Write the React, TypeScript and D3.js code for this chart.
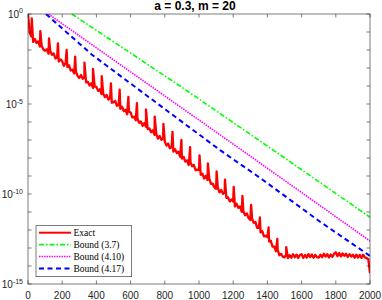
import React from 'react'
import * as d3 from 'd3'

// exact error, log10, sampled every 10 iterations from 0 to 2000
const exactLog = [
  0, -1.05, -1.25, -1.55, -1.39, -1.61, -1.52, -1.81, -1.77, -1.97,
  -2.04, -1.96, -2.21, -2.06, -2.27, -2.19, -2.47, -2.43, -2.64, -2.52,
  -2.63, -2.88, -2.72, -2.94, -2.85, -3.14, -3.10, -3.30, -3.19, -3.44,
  -3.55, -3.39, -3.60, -3.52, -3.80, -3.77, -3.97, -3.85, -4.11, -4.03,
  -4.05, -4.27, -4.18, -4.45, -4.42, -4.62, -4.50, -4.75, -4.67, -4.93,
  -4.91, -4.82, -5.10, -5.06, -5.27, -5.15, -5.40, -5.32, -5.57, -5.42,
  -5.47, -5.75, -5.71, -5.91, -5.80, -6.05, -5.97, -6.22, -6.06, -6.27,
  -6.40, -6.36, -6.57, -6.46, -6.72, -6.65, -6.92, -6.77, -6.99, -6.91,
  -7.09, -7.31, -7.20, -7.46, -7.39, -7.65, -7.51, -7.73, -7.65, -7.94,
  -8.04, -7.94, -8.20, -8.13, -8.39, -8.24, -8.46, -8.39, -8.68, -8.65,
  -8.67, -8.93, -8.87, -9.14, -8.99, -9.22, -9.14, -9.44, -9.42, -9.63,
  -9.71, -9.64, -9.91, -9.77, -9.99, -9.92, -10.21, -10.19, -10.41, -10.30,
  -10.42, -10.69, -10.54, -10.77, -10.69, -10.99, -10.97, -11.18, -11.08, -11.34,
  -11.45, -11.34, -11.60, -11.55, -11.88, -11.88, -12.13, -12.06, -12.35, -12.32,
  -12.39, -12.64, -12.60, -12.92, -12.93, -13.18, -13.10, -13.40, -13.33, -13.48,
  -13.52, -13.36, -13.56, -13.40, -13.54, -13.35, -13.51, -13.37, -13.55, -13.39,
  -13.35, -13.55, -13.39, -13.53, -13.34, -13.50, -13.36, -13.54, -13.38, -13.51,
  -13.53, -13.37, -13.51, -13.32, -13.48, -13.34, -13.52, -13.36, -13.49, -13.33,
  -13.24, -13.46, -13.28, -13.47, -13.30, -13.44, -13.32, -13.50, -13.34, -13.47,
  -13.38, -13.54, -13.37, -13.53, -13.39, -13.55, -13.37, -13.52, -13.56, -13.62,
  -14.4,
]

// the periodic spikes of the exact error
const spikeIter = [22, 72, 123, 175, 226, 276, 330, 380, 431, 485, 536, 587, 637, 690, 741,
  792, 845, 897, 948, 1003, 1052, 1103, 1152, 1203, 1254, 1305, 1356, 1407, 1458, 1510]
const spikeLog = [-0.25, -0.95, -1.35, -1.63, -2.0, -2.37, -2.7, -3.05, -3.45, -3.85, -4.2,
  -4.6, -4.95, -5.3, -5.7, -6.1, -6.55, -7.0, -7.4, -7.85, -8.3, -8.75, -9.2, -9.6, -10.1,
  -10.6, -11.3, -11.85, -12.5, -12.95]

// bounds
const bound37Iter = [256, 889, 1434, 2000]
const bound37Log = [0, -4.0, -7.56, -11.29]
const bound410Iter = [119, 889, 1250, 2000]
const bound410Log = [0, -5.15, -7.56, -12.61]
const bound417Iter = [105, 374, 899, 1123, 1374, 1708, 2000]
const bound417Log = [0, -2.26, -5.98, -7.56, -9.22, -11.54, -13.44]

const xTicks = [0, 200, 400, 600, 800, 1000, 1200, 1400, 1600, 1800, 2000]
const yExps = d3.range(-15, 1)
const legendLabels = ['Exact', 'Bound (3.7)', 'Bound (4.10)', 'Bound (4.17)']

const W = 382, H = 300
const left = 28, right = 370, top = 14, bottom = 284
const axisColor = '#262626'
const sans = "'Liberation Sans', Arial, Helvetica, sans-serif"

export default function App() {
  const x = d3.scaleLinear().domain([0, 2000]).range([left, right])
  const y = d3.scaleLog().domain([1e-15, 1]).range([bottom, top])

  const exactPts = exactLog.map((v, i) => ({ n: i * 10, v }))
    .concat(spikeIter.map((n, i) => ({ n, v: spikeLog[i] })))
    .sort((a, b) => a.n - b.n)

  const line = d3.line<{ n: number; v: number }>()
    .x(d => x(d.n))
    .y(d => y(Math.pow(10, d.v)))

  const zip = (it: number[], lg: number[]) => it.map((n, i) => ({ n, v: lg[i] }))

  const series = [
    { label: legendLabels[0], data: exactPts, color: '#ff0000', dash: null, w: 2.3 },
    { label: legendLabels[1], data: zip(bound37Iter, bound37Log), color: '#00ff00', dash: '5,2,1.5,2', w: 1.6 },
    { label: legendLabels[2], data: zip(bound410Iter, bound410Log), color: '#ff00ff', dash: '1.5,1', w: 1.6 },
    { label: legendLabels[3], data: zip(bound417Iter, bound417Log), color: '#0000ff', dash: '5,3.5', w: 2 },
  ]

  const tl = 3.5

  return (
    <svg width={W} height={H} style={{ position: 'absolute', left: 0, top: 0, background: '#fff' }}>
      <defs>
        <clipPath id="plot-clip">
          <rect x={left} y={top} width={right - left} height={bottom - top} />
        </clipPath>
      </defs>
      <rect x={0} y={0} width={W} height={H} fill="#fff" />

      <g clipPath="url(#plot-clip)">
        {series.slice().reverse().map(s => (
          <path key={s.label} d={line(s.data as any) || ''} fill="none" stroke={s.color}
            strokeWidth={s.w} strokeDasharray={s.dash || undefined} strokeLinejoin="round" />
        ))}
      </g>

      {/* axes box */}
      <rect x={left} y={top} width={right - left} height={bottom - top} fill="none"
        stroke={axisColor} strokeWidth={0.6} />

      {xTicks.map(t => (
        <g key={'x' + t}>
          <line x1={x(t)} x2={x(t)} y1={bottom} y2={bottom - tl} stroke={axisColor} strokeWidth={0.6} />
          <line x1={x(t)} x2={x(t)} y1={top} y2={top + tl} stroke={axisColor} strokeWidth={0.6} />
          <text x={x(t)} y={298.5} textAnchor="middle" fontFamily={sans} fontSize={10} fill={axisColor}>{t}</text>
        </g>
      ))}

      {yExps.map(k => (
        <g key={'y' + k}>
          <line x1={left} x2={left + tl} y1={y(Math.pow(10, k))} y2={y(Math.pow(10, k))} stroke={axisColor} strokeWidth={0.6} />
          <line x1={right} x2={right - tl} y1={y(Math.pow(10, k))} y2={y(Math.pow(10, k))} stroke={axisColor} strokeWidth={0.6} />
          {k % 5 === 0 && (
            <text x={23} y={y(Math.pow(10, k)) + 4.3} textAnchor="end" fontFamily={sans} fontSize={10} fill={axisColor}>
              10<tspan dy={-4.8} fontSize={7}>{k === 0 ? '0' : '-' + Math.abs(k)}</tspan>
            </text>
          )}
        </g>
      ))}

      <text x={195} y={10} textAnchor="middle" fontFamily={sans} fontSize={12} fontWeight="bold" fill="#000">
        a = 0.3, m = 20
      </text>

      {/* legend */}
      <g>
        <rect x={36} y={225.7} width={95.7} height={51} fill="#fff" stroke={axisColor} strokeWidth={0.6} />
        {series.map((s, i) => {
          const ly = 232.7 + i * 11.9
          return (
            <g key={'leg' + i}>
              <line x1={39} x2={71} y1={ly} y2={ly} stroke={s.color} strokeWidth={i === 0 ? 2 : s.w}
                strokeDasharray={s.dash || undefined} />
              <text x={73.5} y={ly + 3.3} fontFamily="'Liberation Serif', 'Times New Roman', serif"
                fontSize={9.5} fill="#000">{s.label}</text>
            </g>
          )
        })}
      </g>
    </svg>
  )
}
